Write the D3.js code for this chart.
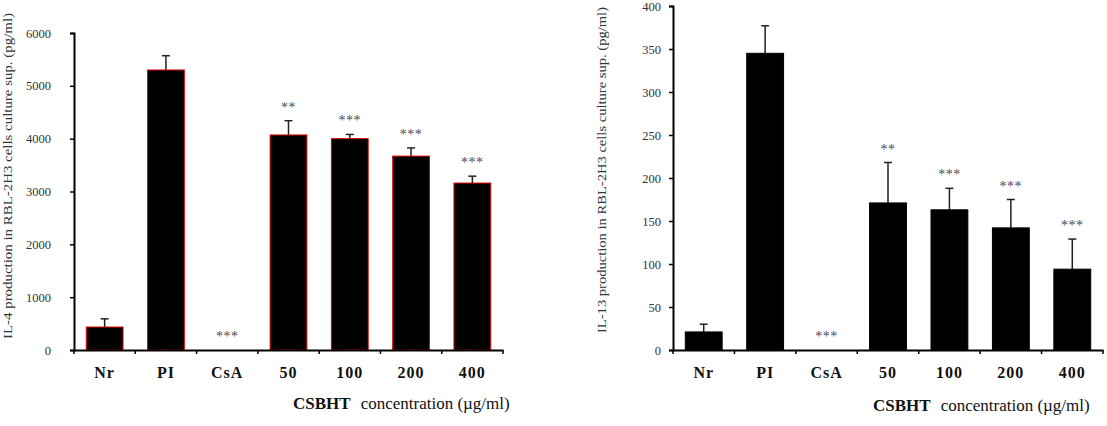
<!DOCTYPE html>
<html>
<head>
<meta charset="utf-8">
<script src="https://cdn.jsdelivr.net/npm/d3@7"></script>
<style>
  body { margin: 0; background: #fff; }
  svg { display: block; }
  text { font-family: "Liberation Serif", "Times New Roman", serif; }
</style>
</head>
<body>
<svg id="chart" width="1107" height="426"></svg>
<script>
// groups on the x axis (same for both panels)
const categories = ['Nr', 'PI', 'CsA', '50', '100', '200', '400'];
const stars = ['', '', '***', '**', '***', '***', '***'];

// IL-4 panel (pg/ml)
const il4Means = [435, 5300, 0, 4070, 4000, 3670, 3160];
const il4Errors = [155, 270, 0, 270, 80, 155, 130];
const il4Ticks = [0, 1000, 2000, 3000, 4000, 5000, 6000];

// IL-13 panel (pg/ml)
const il13Means = [21, 345, 0, 171, 163, 142, 94];
const il13Errors = [9, 32, 0, 47, 25, 33, 35];
const il13Ticks = [0, 50, 100, 150, 200, 250, 300, 350, 400];

const svg = d3.select('#chart');

function drawPanel(p) {
  const g = svg.append('g');
  const x = d3.scaleBand().domain(categories)
      .range([p.left, p.right]).paddingInner(0.4).paddingOuter(0.2);
  const y = d3.scaleLinear().domain([0, d3.max(p.ticks)])
      .range([p.bottom, p.top]);

  // y axis
  const yAxis = g.append('g')
      .attr('transform', 'translate(' + p.left + ',0)')
      .call(d3.axisLeft(y).tickValues(p.ticks).tickSize(4)
          .tickPadding(p.labelGap).tickFormat(d3.format('d')));
  yAxis.select('.domain').attr('stroke', '#000').attr('stroke-width', 2);
  yAxis.selectAll('.tick line').attr('stroke', '#000').attr('stroke-width', 1.5);
  yAxis.selectAll('.tick text')
      .attr('fill', '#333')
      .style('font-size', '12.5px')
      .style('font-family', '"Liberation Serif", serif');

  // bars
  const data = categories.map((c, i) => ({
    cat: c, mean: p.means[i], err: p.errors[i], star: stars[i],
  }));

  g.append('g').selectAll('line.err')
      .data(data.filter((d) => d.err > 0)).enter()
      .append('line')
      .attr('x1', (d) => x(d.cat) + x.bandwidth() / 2)
      .attr('x2', (d) => x(d.cat) + x.bandwidth() / 2)
      .attr('y1', (d) => y(d.mean))
      .attr('y2', (d) => y(d.mean + d.err))
      .attr('stroke', '#222').attr('stroke-width', 1.5);
  g.append('g').selectAll('line.cap')
      .data(data.filter((d) => d.err > 0)).enter()
      .append('line')
      .attr('x1', (d) => x(d.cat) + x.bandwidth() / 2 - 4)
      .attr('x2', (d) => x(d.cat) + x.bandwidth() / 2 + 4)
      .attr('y1', (d) => y(d.mean + d.err))
      .attr('y2', (d) => y(d.mean + d.err))
      .attr('stroke', '#222').attr('stroke-width', 1.5);

  g.append('g').selectAll('rect')
      .data(data.filter((d) => d.mean > 0)).enter()
      .append('rect')
      .attr('x', (d) => x(d.cat))
      .attr('y', (d) => y(d.mean))
      .attr('width', x.bandwidth())
      .attr('height', (d) => y(0) - y(d.mean))
      .attr('fill', '#000')
      .attr('stroke', p.outline)
      .attr('stroke-width', 1);

  // significance marks
  g.append('g').selectAll('text')
      .data(data.filter((d) => d.star)).enter()
      .append('text')
      .attr('x', (d) => x(d.cat) + x.bandwidth() / 2)
      .attr('y', (d) => y(d.mean + d.err) - 9)
      .attr('text-anchor', 'middle')
      .attr('fill', '#4a4a55')
      .style('font-size', '14px')
      .style('letter-spacing', '0.5px')
      .text((d) => d.star);

  // x axis
  const xAxis = g.append('g')
      .attr('transform', 'translate(0,' + p.bottom + ')')
      .call(d3.axisBottom(x).tickSize(0).tickPadding(17));
  xAxis.select('.domain').attr('stroke', '#000').attr('stroke-width', 2);
  xAxis.selectAll('.tick text')
      .attr('fill', '#111')
      .style('font-size', '16px')
      .style('font-weight', 'bold')
      .style('letter-spacing', '1px')
      .style('font-family', '"Liberation Serif", serif');
  // separators between groups
  const step = x.step();
  xAxis.selectAll('line.sep')
      .data(d3.range(categories.length + 1)).enter()
      .append('line')
      .attr('x1', (i) => p.left + i * step)
      .attr('x2', (i) => p.left + i * step)
      .attr('y1', 0).attr('y2', 4)
      .attr('stroke', '#000').attr('stroke-width', 1.5);

  // axis titles
  const xt = g.append('text')
      .attr('x', p.xTitleX).attr('y', p.xTitleY)
      .attr('fill', '#111')
      .style('font-size', '17px');
  xt.append('tspan').style('font-weight', 'bold').text('CSBHT');
  xt.append('tspan').attr('dx', 10).text('concentration (µg/ml)');

  g.append('text')
      .attr('transform', 'translate(' + p.yTitleX + ',' + p.yTitleY +
          ') rotate(-90)')
      .attr('text-anchor', 'middle')
      .attr('dy', '0.35em')
      .attr('fill', '#333')
      .attr('textLength', p.yTitleLen)
      .attr('lengthAdjust', 'spacingAndGlyphs')
      .style('font-size', '13.5px')
      .text(p.yTitle);
}

drawPanel({
  left: 74, right: 503, top: 33, bottom: 350,
  means: il4Means, errors: il4Errors, ticks: il4Ticks,
  outline: '#e00000', labelGap: 19,
  xTitleX: 293, xTitleY: 409, yTitleX: 7, yTitleY: 176, yTitleLen: 326,
  yTitle: 'IL-4 production in RBL-2H3 cells culture sup. (pg/ml)',
});

drawPanel({
  left: 673, right: 1103, top: 6, bottom: 350,
  means: il13Means, errors: il13Errors, ticks: il13Ticks,
  outline: '#000', labelGap: 8,
  xTitleX: 873, xTitleY: 411, yTitleX: 601, yTitleY: 170, yTitleLen: 326,
  yTitle: 'IL-13 production in RBL-2H3 cells culture sup. (pg/ml)',
});
</script>
</body>
</html>
